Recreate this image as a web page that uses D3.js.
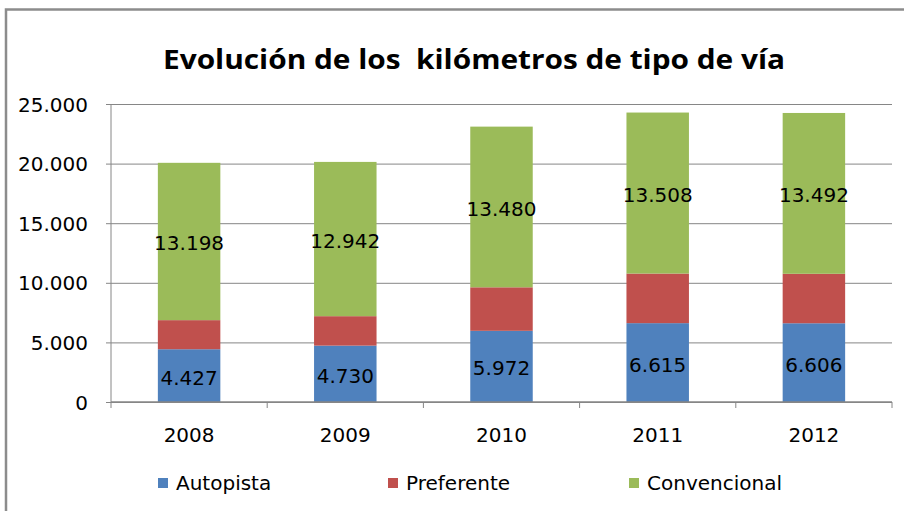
<!DOCTYPE html>
<html>
<head>
<meta charset="utf-8">
<script src="https://cdn.jsdelivr.net/npm/d3@7"></script>
<style>
  body { margin: 0; background: #fff; }
  text { font-family: "DejaVu Sans", "Liberation Sans", sans-serif; fill: #000; }
</style>
</head>
<body>
<svg id="chart" width="904" height="511"></svg>
<script>
// data
var years = ["2008", "2009", "2010", "2011", "2012"];
var autopista = [4427, 4730, 5972, 6615, 6606];
var preferente = [2440, 2470, 3650, 4160, 4150];
var convencional = [13198, 12942, 13480, 13508, 13492];
var seriesNames = ["Autopista", "Preferente", "Convencional"];
var yTicks = [0, 5000, 10000, 15000, 20000, 25000];

var rows = years.map((y, i) => ({
  year: y,
  Autopista: autopista[i],
  Preferente: preferente[i],
  Convencional: convencional[i]
}));

var svg = d3.select("svg#chart"),
  margin = {top: 104, left: 111, bottom: 109, right: 12},
  width = 904,
  height = 511;

var colors = d3.scaleOrdinal()
  .domain(seriesNames)
  .range(["#4f81bd", "#c0504d", "#9bbb59"]);

var x = d3.scaleBand()
  .domain(years)
  .range([margin.left, width - margin.right])
  .paddingInner(0.6)
  .paddingOuter(0.3);

var y = d3.scaleLinear()
  .domain([0, 25000])
  .range([height - margin.bottom, margin.top]);

var fmt = d3.formatLocale({decimal: ",", thousands: ".", grouping: [3], currency: ["", ""]}).format(",d");

// outer frame (only top and left visible)
svg.append("path")
  .attr("d", "M6,511 V9.5 H904")
  .attr("fill", "none")
  .attr("stroke", "#8c8c8c")
  .attr("stroke-width", 2.5);

// title
svg.append("text")
  .attr("x", 474)
  .attr("y", 69)
  .attr("text-anchor", "middle")
  .attr("textLength", 622)
  .attr("lengthAdjust", "spacingAndGlyphs")
  .style("font-family", "'Open Sans', sans-serif")
  .style("font-size", "26px")
  .style("font-weight", "bold")
  .text("Evolución de los\u00a0 kilómetros de tipo de vía");

// gridlines + y axis
var yAxis = svg.append("g")
  .attr("transform", translate(margin.left, 0))
  .call(d3.axisLeft(y).tickValues(yTicks).tickFormat(fmt)
    .tickSize(-(width - margin.right - margin.left)).tickPadding(23));
yAxis.select(".domain").remove();
yAxis.selectAll(".tick line").attr("stroke", "#868686").attr("x1", -5);
yAxis.selectAll(".tick text").style("font-size", "20px").attr("dy", "0.35em")
  .style("font-family", "'DejaVu Sans', sans-serif");

// bars
var stack = d3.stack().keys(seriesNames)(rows);
var layer = svg.selectAll("g.layer")
  .data(stack)
  .enter().append("g")
  .attr("class", "layer")
  .attr("fill", d => colors(d.key));

layer.selectAll("rect")
  .data(d => d)
  .enter().append("rect")
  .attr("x", d => x(d.data.year))
  .attr("width", x.bandwidth())
  .attr("y", d => y(d[1]))
  .attr("height", d => y(d[0]) - y(d[1]));

// value labels for Autopista and Convencional, centred in their segment
stack.filter(s => s.key != "Preferente").forEach(s => {
  svg.append("g").selectAll("text")
    .data(s)
    .enter().append("text")
    .attr("x", d => x(d.data.year) + x.bandwidth() / 2)
    .attr("y", d => (y(d[0]) + y(d[1])) / 2 + 2)
    .attr("text-anchor", "middle")
    .attr("dy", "0.35em")
    .style("font-size", "20px")
    .text(d => fmt(d.data[s.key]));
});

// y axis line
svg.append("line")
  .attr("x1", margin.left).attr("x2", margin.left)
  .attr("y1", y(25000)).attr("y2", y(0))
  .attr("stroke", "#868686");

// x axis
var bounds = d3.range(years.length + 1).map(i => margin.left + i * (width - margin.right - margin.left) / years.length);
var xAxis = svg.append("g").attr("class", "x-axis");
xAxis.append("line")
  .attr("x1", margin.left).attr("x2", width - margin.right)
  .attr("y1", y(0)).attr("y2", y(0))
  .attr("stroke", "#868686").attr("stroke-width", 1.5);
xAxis.selectAll("line.tk")
  .data(bounds)
  .enter().append("line")
  .attr("class", "tk")
  .attr("x1", d => d).attr("x2", d => d)
  .attr("y1", y(0)).attr("y2", y(0) + 6)
  .attr("stroke", "#868686");
xAxis.selectAll("text")
  .data(years)
  .enter().append("text")
  .attr("x", d => x(d) + x.bandwidth() / 2)
  .attr("y", 435)
  .attr("dy", "0.35em")
  .attr("text-anchor", "middle")
  .style("font-size", "20px")
  .text(d => d);

// legend
var legendX = [158, 388, 629];
var legend = svg.selectAll("g.legend")
  .data(seriesNames)
  .enter().append("g")
  .attr("class", "legend")
  .attr("transform", (d, i) => translate(legendX[i], 483));
legend.append("rect")
  .attr("x", 0).attr("y", -5)
  .attr("width", 10).attr("height", 10)
  .attr("fill", d => colors(d));
legend.append("text")
  .attr("x", 18)
  .attr("dy", "0.35em")
  .style("font-size", "20px")
  .text(d => d);

function translate(x, y) {
  return 'translate(' + String(x) + ',' + String(y) + ')';
}
</script>
</body>
</html>
